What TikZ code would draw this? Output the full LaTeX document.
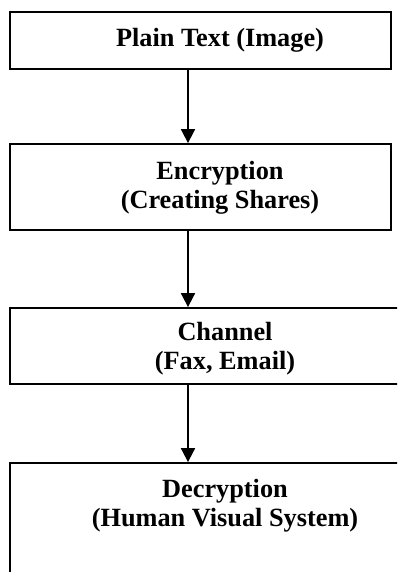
\documentclass[tikz,border=0pt]{standalone}
\usepackage{fontspec}
\setmainfont{Liberation Serif}
\usetikzlibrary{arrows.meta}

\tikzset{
  stage/.style={draw, rectangle, line width=1.8pt, inner sep=0pt},
  stagetext/.style={font=\bfseries\fontsize{26.3}{29}\selectfont, align=center, inner sep=0pt},
  flow/.style={line width=1.8pt, -{Triangle[width=14pt,length=14pt]}}
}

\begin{document}
\begin{tikzpicture}[x=1pt,y=-1pt]
\useasboundingbox (0,0) rectangle (397,572);
\clip (0,0) rectangle (397,572);

\node[stage, minimum width=381pt, minimum height=57pt] (plain) at (200.5,40.5) {};
\node[stage, minimum width=381pt, minimum height=86pt] (enc) at (200.5,187) {};
\node[stage, minimum width=430pt, minimum height=76pt] (chan) at (225,346) {};
\node[stage, minimum width=430pt, minimum height=157pt] (dec) at (225,541.5) {};

\node[stagetext] (plaintext) at (220,40) {Plain Text (Image)};
\node[stagetext] (enctext) at (220,188) {Encryption\\(Creating Shares)};
\node[stagetext] (chantext) at (225,349) {Channel\\(Fax, Email)};
\node[stagetext] (dectext) at (225,506) {Decryption\\(Human Visual System)};

\coordinate (flowx) at (188,0);
\draw[flow] (plain.south -| flowx) -- (enc.north -| flowx);
\draw[flow] (enc.south -| flowx) -- (chan.north -| flowx);
\draw[flow] (chan.south -| flowx) -- (dec.north -| flowx);
\end{tikzpicture}
\end{document}
